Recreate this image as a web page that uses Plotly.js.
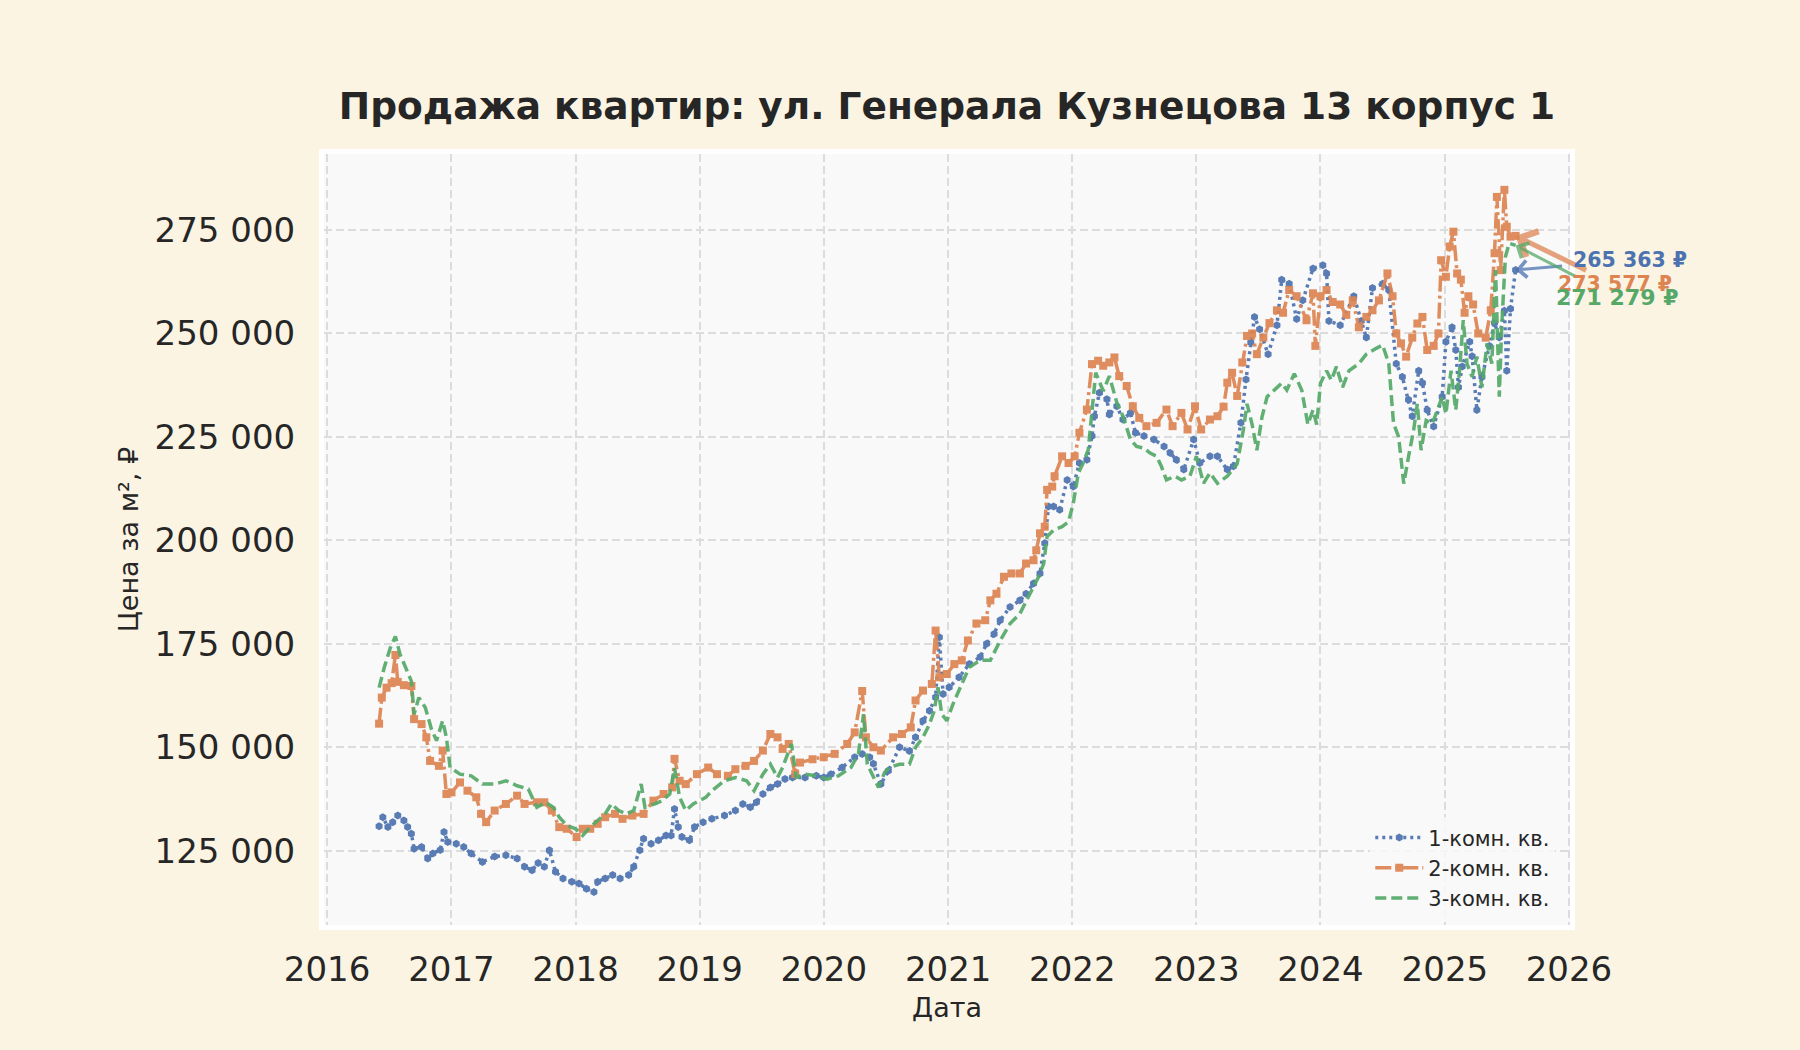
<!DOCTYPE html>
<html>
<head>
<meta charset="utf-8">
<script src="https://cdn.plot.ly/plotly-3.0.1.min.js"></script>
<style>
  html, body { margin: 0; padding: 0; background: #FBF4E3; }
  #chart { width: 1800px; height: 1050px; }
</style>
</head>
<body>
<div id="chart"></div>
<script>
// ---- data (decimal years, price per m², ₽) ----
const seriesNames = ["1-комн. кв.", "2-комн. кв.", "3-комн. кв."];
const xTickYears = [2016, 2017, 2018, 2019, 2020, 2021, 2022, 2023, 2024, 2025, 2026];
const yTickValues = [125000, 150000, 175000, 200000, 225000, 250000, 275000];
const yTickLabels = ["125 000", "150 000", "175 000", "200 000", "225 000", "250 000", "275 000"];

const t1 = [2016.42,2016.45,2016.49,2016.53,2016.57,2016.62,2016.65,2016.68,2016.70,2016.76,2016.81,2016.85,2016.91,2016.94,2016.97,
2017.04,2017.10,2017.16,2017.25,2017.35,2017.44,2017.53,2017.59,2017.65,2017.70,2017.75,2017.79,2017.84,2017.90,2017.97,
2018.03,2018.09,2018.15,2018.18,2018.24,2018.30,2018.36,2018.43,2018.47,2018.52,2018.55,2018.61,2018.67,2018.73,2018.77,2018.80,2018.83,2018.86,2018.92,2018.96,
2019.03,2019.10,2019.20,2019.29,2019.35,2019.41,2019.46,2019.51,2019.57,2019.63,2019.69,2019.75,2019.85,2019.94,
2020.00,2020.06,2020.15,2020.25,2020.31,2020.37,2020.40,2020.46,2020.52,2020.61,2020.69,2020.74,2020.80,2020.85,2020.90,2020.93,2020.96,
2021.01,2021.09,2021.17,2021.26,2021.31,2021.37,2021.42,2021.50,2021.58,2021.63,2021.69,2021.74,2021.78,2021.81,2021.85,2021.90,2021.96,
2022.01,2022.06,2022.12,2022.16,2022.18,2022.22,2022.28,2022.30,2022.36,2022.41,2022.47,2022.51,2022.58,2022.66,2022.74,2022.79,2022.84,2022.90,2022.98,
2023.03,2023.11,2023.17,2023.25,2023.30,2023.36,2023.40,2023.44,2023.47,2023.51,2023.58,2023.65,2023.69,2023.75,2023.81,2023.86,2023.94,
2024.02,2024.05,2024.07,2024.16,2024.27,2024.33,2024.37,2024.42,2024.50,2024.55,2024.61,2024.66,2024.71,2024.74,2024.79,2024.82,2024.86,2024.91,2024.98,
2025.01,2025.06,2025.09,2025.11,2025.14,2025.20,2025.22,2025.26,2025.30,2025.36,2025.40,2025.44,2025.48,2025.50,2025.53,2025.57];
const v1 = [130900,133100,130700,131900,133500,132300,130700,129100,125500,125900,123100,124300,125200,129500,127100,
126700,125900,124300,122300,123600,123900,123100,121100,120300,122000,121100,125100,119900,118300,117500,
117100,115800,115000,117500,118300,119100,118300,119100,121100,125100,127900,126700,127500,128700,128700,135100,130700,128300,127500,130700,
131900,132700,133500,134700,136300,135500,136700,138700,140300,141100,142300,142700,142700,143100,
142700,143500,145100,147600,148400,147600,146000,141100,144300,150000,149100,152400,156400,158800,162100,176600,162900,
164500,166900,170100,171800,175000,177400,180700,183900,185500,187100,189600,192000,199300,208200,208200,207400,214600,
213000,218700,219500,225200,230000,235700,234100,230400,232400,229200,230800,226000,225200,224400,222700,221100,219500,217100,224400,
218700,220300,220300,217100,217900,228400,238900,247800,254000,251000,245000,252000,263000,262000,253500,258000,265700,
266500,264500,253000,252000,259000,253000,249000,261000,262000,260500,242700,239500,234000,230000,241000,238000,231500,227500,234700,
248000,251500,246000,237000,242000,248000,244500,231500,239500,247000,252500,249000,255500,241000,256000,265363];

const t2 = [2016.42,2016.44,2016.48,2016.52,2016.55,2016.57,2016.62,2016.68,2016.70,2016.76,2016.80,2016.83,2016.90,2016.93,2016.96,
2017.00,2017.07,2017.13,2017.20,2017.24,2017.28,2017.35,2017.44,2017.53,2017.59,2017.69,2017.75,2017.81,2017.87,2017.93,
2018.01,2018.06,2018.12,2018.18,2018.24,2018.32,2018.38,2018.46,2018.55,2018.63,2018.71,2018.78,2018.80,2018.84,2018.89,2018.98,
2019.07,2019.14,2019.23,2019.29,2019.37,2019.44,2019.51,2019.57,2019.63,2019.67,2019.72,2019.77,2019.81,2019.91,
2020.00,2020.09,2020.19,2020.25,2020.31,2020.34,2020.40,2020.46,2020.56,2020.63,2020.70,2020.74,2020.80,2020.87,2020.90,2020.93,2020.99,
2021.05,2021.11,2021.16,2021.23,2021.30,2021.34,2021.39,2021.45,2021.51,2021.58,2021.63,2021.69,2021.71,2021.74,2021.78,2021.80,2021.84,2021.86,2021.92,2021.97,
2022.02,2022.06,2022.12,2022.16,2022.21,2022.25,2022.30,2022.34,2022.38,2022.44,2022.49,2022.54,2022.60,2022.68,2022.76,2022.81,2022.88,2022.93,2022.99,
2023.04,2023.11,2023.17,2023.22,2023.25,2023.29,2023.33,2023.37,2023.41,2023.45,2023.49,2023.54,2023.59,2023.65,2023.70,2023.75,2023.81,2023.89,2023.94,2023.96,
2024.00,2024.05,2024.10,2024.16,2024.21,2024.26,2024.31,2024.37,2024.42,2024.47,2024.54,2024.58,2024.61,2024.65,2024.69,2024.74,2024.78,2024.82,2024.86,2024.91,2024.95,2024.97,
2025.01,2025.04,2025.07,2025.10,2025.13,2025.16,2025.19,2025.23,2025.27,2025.33,2025.37,2025.40,2025.42,2025.45,2025.48,2025.50,2025.53,2025.57];
const v2 = [155700,162000,164400,165500,172300,165800,165000,164800,156800,155600,152400,146700,145500,149200,138700,
139100,141500,139500,137900,133900,131900,134700,136300,138300,136300,136700,136700,134700,130700,130300,
128300,130300,130300,131500,133100,133900,132700,133500,133900,137100,138700,140300,147200,141900,141100,143500,
145100,143500,143100,144700,145500,146700,149200,153200,152400,149600,150800,143500,146300,147100,
147600,148400,150800,153600,163600,152400,150000,149200,152400,153200,154800,161300,163700,165300,178200,166900,167700,
170100,171000,175800,179900,180700,185500,187100,191200,192000,192000,194400,195200,197600,201700,203300,212200,213000,215500,220300,218700,
220300,226000,231600,242600,243400,242200,243000,244200,239700,237300,232400,229600,227600,228400,231600,227600,230800,226800,232400,
226800,229200,230000,232300,238100,240500,234900,243000,249400,250000,245000,249000,252500,255600,255000,260500,259000,253200,259700,247000,
259000,260500,257600,257000,254500,258000,251500,254000,255600,258000,264500,259000,250000,247600,244400,249000,252400,254000,246000,247000,250000,267700,
263700,271000,274600,264500,263000,255000,259000,257000,250000,249000,255600,269400,283000,265300,284700,275800,273400,273577];

const t3 = [2016.42,2016.46,2016.51,2016.55,2016.59,2016.64,2016.68,2016.70,2016.74,2016.79,2016.84,2016.88,2016.93,2016.96,2016.99,
2017.07,2017.16,2017.25,2017.35,2017.44,2017.53,2017.62,2017.69,2017.76,2017.82,2017.87,2017.93,
2018.00,2018.06,2018.12,2018.18,2018.24,2018.29,2018.35,2018.41,2018.47,2018.53,2018.56,2018.64,2018.70,2018.76,2018.80,2018.84,2018.89,2018.95,
2019.05,2019.10,2019.20,2019.29,2019.38,2019.44,2019.51,2019.57,2019.63,2019.67,2019.74,2019.78,2019.85,2019.94,
2020.03,2020.12,2020.22,2020.28,2020.32,2020.35,2020.40,2020.44,2020.49,2020.53,2020.61,2020.69,2020.74,2020.80,2020.85,2020.89,2020.92,2020.95,2020.99,
2021.04,2021.11,2021.17,2021.26,2021.34,2021.42,2021.50,2021.58,2021.66,2021.73,2021.77,2021.80,2021.85,2021.92,2021.97,
2022.01,2022.05,2022.09,2022.13,2022.17,2022.19,2022.25,2022.30,2022.36,2022.41,2022.47,2022.52,2022.58,2022.63,2022.68,2022.72,2022.76,2022.83,2022.88,2022.95,
2023.00,2023.06,2023.11,2023.17,2023.25,2023.33,2023.38,2023.41,2023.45,2023.49,2023.53,2023.57,2023.63,2023.69,2023.73,2023.79,2023.85,2023.90,2023.94,2023.97,
2024.00,2024.05,2024.09,2024.13,2024.18,2024.23,2024.31,2024.37,2024.45,2024.50,2024.55,2024.59,2024.63,2024.67,2024.71,2024.75,2024.78,2024.81,2024.85,2024.90,2024.94,2024.98,
2025.01,2025.05,2025.09,2025.12,2025.15,2025.18,2025.22,2025.26,2025.30,2025.34,2025.38,2025.41,2025.44,2025.46,2025.49,2025.52,2025.57];
const v3 = [164400,169200,174000,176800,172400,168800,166000,158000,162000,159600,154400,151600,156400,152400,145100,
143500,143100,141100,141100,141900,140700,139900,135500,136700,135500,133100,131100,
130300,128700,130700,132300,133900,136300,134700,133900,134700,141100,135500,136300,137100,138700,145000,137900,134700,136300,
137900,139500,141900,142700,141900,139500,143500,145900,142700,145100,150800,142700,143500,143100,
142300,143100,145100,148400,158000,145900,142700,140300,143900,145100,145900,145900,150000,152400,155600,158800,164500,158000,156400,
160400,165300,169300,171000,171000,175800,179900,182300,187100,191200,194400,200900,202500,203300,204500,
209000,216300,218700,221900,233300,240500,236100,239700,233300,230000,224400,222700,222300,221100,220300,217900,214600,215500,214600,215500,
220300,213800,216300,213800,215500,218500,226600,233000,228000,221800,229800,234700,236300,238000,236300,240300,236300,228000,231500,228000,
238000,241000,238700,242000,237000,241000,242700,245000,246400,247200,242700,228200,225000,213700,220200,226600,233000,221800,229000,228200,231500,234700,
230600,241000,231500,241000,253200,242700,239500,244400,237000,247600,242700,265300,234700,251600,268500,271800,271279];

const lastLabels = ["265 363 ₽", "273 577 ₽", "271 279 ₽"];

// ---- helpers ----
function decYearToDate(y) {
  const yr = Math.floor(y);
  const start = Date.UTC(yr, 0, 1);
  const end = Date.UTC(yr + 1, 0, 1);
  return new Date(start + (y - yr) * (end - start)).toISOString().slice(0, 10);
}
function hexToRgba(h, a) {
  const r = parseInt(h.slice(1, 3), 16), g = parseInt(h.slice(3, 5), 16), b = parseInt(h.slice(5, 7), 16);
  return `rgba(${r},${g},${b},${a})`;
}
const colors = ["#4C72B0", "#DD8452", "#55A868"];
const times = [t1, t2, t3].map(a => a.map(decYearToDate));
const vals = [v1, v2, v3];

const traces = [
  {
    x: times[0], y: vals[0], name: seriesNames[0], type: "scatter", mode: "lines+markers",
    line: { color: colors[0], width: 3.5, dash: "3px,4px" },
    marker: { symbol: "hexagon", size: 8, color: colors[0] },
    opacity: 0.92
  },
  {
    x: times[1], y: vals[1], name: seriesNames[1], type: "scatter", mode: "lines+markers",
    line: { color: colors[1], width: 3.5, dash: "16px,4px,3px,4px" },
    marker: { symbol: "square", size: 8, color: colors[1] },
    opacity: 0.92
  },
  {
    x: times[2], y: vals[2], name: seriesNames[2], type: "scatter", mode: "lines",
    line: { color: colors[2], width: 3.5, dash: "11px,5px" },
    opacity: 0.92
  }
];

// arrows (tail offsets in px from the last point) and labels (offsets from the last point)
const arrowTail = [[48, -4], [72, 35], [62, 32]];
const arrowWidth = [3, 5, 3];
const labelShift = [[55, 10], [40, -48], [38, -52]];
const labelSize = [20.5, 20.5, 22];
const annotations = [];
[0, 1, 2].forEach(i => {
  const n = times[i].length - 1;
  annotations.push({
    x: times[i][n], y: vals[i][n], xref: "x", yref: "y",
    text: "", showarrow: true,
    arrowhead: 4, arrowsize: 1.1, arrowwidth: arrowWidth[i],
    arrowcolor: hexToRgba(colors[i], 0.75),
    ax: arrowTail[i][0], ay: arrowTail[i][1], standoff: 0
  });
});
[0, 1, 2].forEach(i => {
  const n = times[i].length - 1;
  annotations.push({
    x: times[i][n], y: vals[i][n], xref: "x", yref: "y",
    text: "<b>" + lastLabels[i] + "</b>", showarrow: false,
    xanchor: "left", yanchor: "middle",
    xshift: labelShift[i][0], yshift: labelShift[i][1],
    font: { family: "DejaVu Sans", size: labelSize[i], color: colors[i] }
  });
});

const layout = {
  width: 1800, height: 1050,
  paper_bgcolor: "#FBF4E3",
  plot_bgcolor: "#F9F9F9",
  margin: { l: 324, r: 230, t: 154, b: 125 },
  font: { family: "DejaVu Sans", color: "#262626" },
  title: {
    text: "<b>Продажа квартир: ул. Генерала Кузнецова 13 корпус 1</b>",
    font: { family: "DejaVu Sans", size: 37.5, color: "#262626" },
    x: 0.5, xref: "paper", y: 1 - 106 / 1050, yref: "container", yanchor: "middle"
  },
  xaxis: {
    type: "date",
    range: [decYearToDate(2015.976), decYearToDate(2026.01)],
    tickvals: xTickYears.map(y => y + "-01-01"),
    ticktext: xTickYears.map(String),
    tickfont: { size: 34, color: "#262626" },
    ticks: "outside", ticklen: 10, tickcolor: "rgba(0,0,0,0)",
    showgrid: true, gridcolor: "#DCDCDC", gridwidth: 2, griddash: "8px,4px",
    showline: true, linecolor: "#FFFFFF", linewidth: 5, mirror: true,
    zeroline: false,
    title: { text: "Дата", font: { size: 27, color: "#262626" }, standoff: 12 }
  },
  yaxis: {
    range: [107045, 293370],
    tickvals: yTickValues,
    ticktext: yTickLabels,
    tickfont: { size: 34, color: "#262626" },
    ticks: "outside", ticklen: 17, tickcolor: "rgba(0,0,0,0)",
    showgrid: true, gridcolor: "#DCDCDC", gridwidth: 2, griddash: "8px,4px",
    showline: true, linecolor: "#FFFFFF", linewidth: 5, mirror: true,
    zeroline: false,
    title: { text: "Цена за м², ₽", font: { size: 27, color: "#262626" }, standoff: 10 }
  },
  legend: {
    x: 0.8397, xanchor: "left", y: 0.1397, yanchor: "top",
    bgcolor: "rgba(249,249,249,0.85)",
    font: { size: 21, color: "#262626" },
    itemwidth: 48,
    tracegroupgap: 0
  },
  showlegend: true,
  annotations: annotations
};

Plotly.newPlot("chart", traces, layout, { displayModeBar: false, staticPlot: true });
</script>
</body>
</html>
